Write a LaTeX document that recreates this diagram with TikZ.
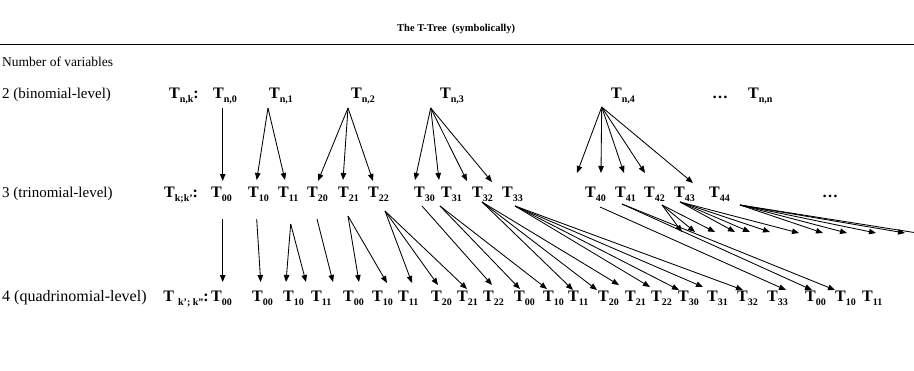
\documentclass[tikz,border=0pt]{standalone}
\usepackage{fontspec}
\setmainfont{Liberation Serif}
\usetikzlibrary{arrows.meta}
\newcommand\sbx[1]{\raisebox{-0.28em}{\fontsize{10}{11}\selectfont #1}}
\begin{document}
\begin{tikzpicture}[x=1pt,y=-1pt,
  lbl/.style={anchor=base west,inner sep=0pt,font=\fontsize{15}{18}\selectfont},
  tn/.style={anchor=base west,inner sep=0pt,font=\fontsize{16}{18}\selectfont\bfseries},
  arr/.style={line width=0.85pt,-{Triangle[length=7pt,width=5.5pt]}},
  rule/.style={line width=0.9pt}]
\useasboundingbox (0,0) rectangle (914,370);
\clip (0,0) rectangle (914,370);
% title and rule
\node[tn,font=\fontsize{10.5}{12}\selectfont\bfseries] (title) at (397,31.5) {The T-Tree\ \ (symbolically)};
\coordinate (r0) at (0,44);
\coordinate (r1) at (914,44);
\draw[rule] (r0) -- (r1);
\node[lbl,font=\fontsize{13.5}{16}\selectfont] (nvar) at (2,66) {Number of variables};
% row 2
\node[lbl] (l2) at (2,98) {2 (binomial-level)};
\node[tn] (nk) at (169,98) {T\sbx{n,k}:};
\node[tn] (n0) at (213,98) {T\sbx{n,0}};
\node[tn] (n1) at (269,98) {T\sbx{n,1}};
\node[tn] (n2) at (351,98) {T\sbx{n,2}};
\node[tn] (n3) at (440,98) {T\sbx{n,3}};
\node[tn] (n4) at (611,98) {T\sbx{n,4}};
\node[tn] (ndots) at (712,98) {…};
\node[tn] (nn) at (748,98) {T\sbx{n,n}};
% row 3
\node[lbl] (l3) at (2,197.5) {3 (trinomial-level)};
\node[tn] (kk) at (164,197.5) {T\sbx{k;k'}:};
\foreach \x/\s in {211/00,248/10,278/11,307/20,338/21,368/22,414/30,441/31,472/32,502/33,585/40,615/41,644/42,674/43,709/44}
  \node[tn] (p\s) at (\x,197.5) {T\sbx{\s}};
\node[tn] (pdots) at (822,197.5) {…};
% row 4
\node[lbl,font=\fontsize{16}{18}\selectfont] (l4) at (2,301) {4 (quadrinomial-level)};
\node[tn,anchor=base east] (kk2) at (209,301) {T\sbx{\ \,k';\ k''}:};
\foreach \x/\s [count=\i] in {211/00,252/00,283/10,311/11,343/00,372/10,398/11,431/20,457/21,483/22,514/00,543/10,568/11,598/20,625/21,651/22,678/30,707/31,737/32,767/33,805/00,835/10,862/11}
  \node[tn] (q\i) at (\x,301) {T\sbx{\s}};
% apexes under row 2
\coordinate (A0) at (222.7,108);
\coordinate (A1) at (268,108);
\coordinate (A2) at (348,108);
\coordinate (A3) at (430.7,108);
\coordinate (A4) at (601.7,107);
% tips above row 3
\foreach \n/\x/\y in {t00/222.7/181,t10/256.7/180,t11/285/180,t20/318/181,t21/343/180,t22/373/181,t30/415/180,t31/439/180,t32/467/181,t33/492/182,t40/577/173,t41/601/173,t42/624/173,t43/645/173,t44/693/183}
  \coordinate (\n) at (\x,\y);
\draw[arr] (A0) -- (t00);
\foreach \t in {t10,t11} \draw[arr] (A1) -- (\t);
\foreach \t in {t20,t21,t22} \draw[arr] (A2) -- (\t);
\foreach \t in {t30,t31,t32,t33} \draw[arr] (A3) -- (\t);
\foreach \t in {t40,t41,t42,t43,t44} \draw[arr] (A4) -- (\t);
% origins under row 3
\foreach \n/\x/\y in {B00/222.7/219,B10/256.7/219,B11/290.7/224,B20/317/219,B21/348/216,B22/385/211,B30/422/206,B31/440/206,B32/482/202,B33/515/206,B40/600/207,B41/622/204,B42/662/205,B43/680/202,B44/740/205}
  \coordinate (\n) at (\x,\y);
% tips above row 4
\foreach \x/\y [count=\i] in {222.7/282,260.7/282,286/282,306/282,333/282,359/282,387/283,412/283,438/285,467/289,492/285,520/289,547/289,573/290,597/290,619/285,650/287,679/290,703/287,743/290,786/290,812/290,835/290}
  \coordinate (u\i) at (\x,\y);
% tips of the arrows running off to the right
\foreach \x/\y [count=\i] in {682/232,695/232,715/232,735/232,750/232,770/232,799/233,823/233,847/233,876/233,905/233,930/235}
  \coordinate (v\i) at (\x,\y);
\draw[arr] (B00) -- (u1);
\draw[arr] (B10) -- (u2);
\foreach \i in {3,4} \draw[arr] (B11) -- (u\i);
\draw[arr] (B20) -- (u5);
\foreach \i in {6,7} \draw[arr] (B21) -- (u\i);
\foreach \i in {8,9,10} \draw[arr] (B22) -- (u\i);
\draw[arr] (B30) -- (u11);
\foreach \i in {12,13} \draw[arr] (B31) -- (u\i);
\foreach \i in {14,15,16} \draw[arr] (B32) -- (u\i);
\foreach \i in {17,18,19,20} \draw[arr] (B33) -- (u\i);
\draw[arr] (B40) -- (u21);
\foreach \i in {22,23} \draw[arr] (B41) -- (u\i);
\foreach \i in {1,2,3} \draw[arr] (B42) -- (v\i);
\foreach \i in {4,5,6,7} \draw[arr] (B43) -- (v\i);
\foreach \i in {8,9,10,11,12} \draw[arr] (B44) -- (v\i);
\end{tikzpicture}
\end{document}
